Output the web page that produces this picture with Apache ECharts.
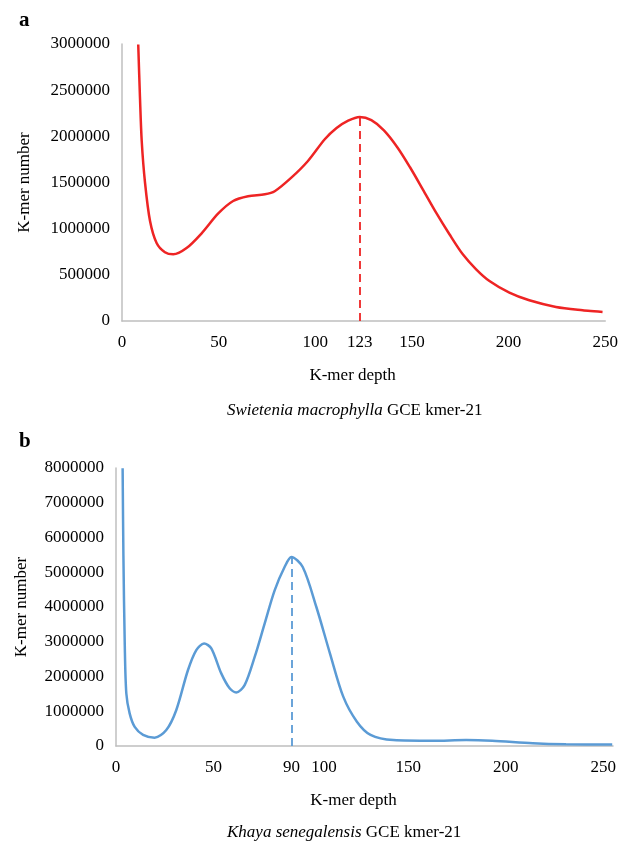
<!DOCTYPE html>
<html>
<head>
<meta charset="utf-8">
<script src="https://cdn.jsdelivr.net/npm/echarts@6/dist/echarts.min.js"></script>
<style>
  html, body { margin: 0; padding: 0; background: #fff; }
  #main { width: 621px; height: 844px; }
</style>
</head>
<body>
<div id="main"></div>
<script>
// panel a: Swietenia macrophylla
var depthA = [8.4, 9.3, 10.2, 11.9, 14.5, 17.9, 22.2, 26.5, 33.4, 41.2, 49.8, 57.5, 65.2, 73.9, 79, 87.6, 96.2,
  104.9, 111, 117, 123, 129, 135.5, 142.5, 149, 155.6, 162.5, 169.4, 176.3, 183.2, 190.1, 200.4, 210.7, 224.5, 238.3, 248.6];
var countA = [2995000, 2420000, 1950000, 1500000, 1083000, 845000, 745000, 722000, 790000, 950000, 1165000, 1300000, 1352000, 1372000, 1405000, 1552000, 1733000,
  1968000, 2090000, 2170000, 2210000, 2175000, 2065000, 1880000, 1665000, 1426000, 1173000, 939000, 722000, 560000, 433000, 307000, 224000, 152000, 116000, 97000];
var ticksA = [0, 50, 100, 123, 150, 200, 250];
var peakA = 123;

// panel b: Khaya senegalensis
var depthB = [3.4, 3.8, 4.5, 5.3, 7, 9.6, 13.9, 19.8, 25.8, 30.9, 36.9, 41.2, 45.2, 48.9, 54, 58.3, 61.7, 66, 71.2, 76.3, 81.4, 86.5, 90,
  95.8, 102.8, 109.8, 116.6, 123.6, 130.6, 142.3, 162.5, 179.6, 193, 213.8, 230.9, 254.6];
var countB = [7990000, 5490000, 2900000, 1510000, 940000, 550000, 320000, 240000, 460000, 1030000, 2180000, 2760000, 2950000, 2810000, 2090000, 1660000, 1540000, 1750000, 2570000, 3530000, 4480000, 5150000, 5440000,
  5150000, 4000000, 2660000, 1420000, 700000, 320000, 170000, 150000, 170000, 150000, 80000, 50000, 40000];
var ticksB = [0, 50, 90, 100, 150, 200, 250];
var peakB = 90;

var serif = '"Liberation Serif", "Times New Roman", serif';
var red = '#ee2424';
var blue = '#5b9bd5';

function pairs(xs, ys) {
  return xs.map(function (x, i) { return [x, ys[i]]; });
}
function peakOf(xs, ys, x) {
  return ys[xs.indexOf(x)];
}

function xAxisFor(grid, max, ticks, labelFmt) {
  return {
    type: 'value', gridIndex: grid, min: 0, max: max,
    name: 'K-mer depth', nameLocation: 'middle', nameGap: 46,
    nameTextStyle: { fontFamily: serif, fontSize: 17, color: '#000', padding: [0, 22, 0, 0] },
    axisLine: { show: true, lineStyle: { color: '#bfbfbf', width: 1.5 } },
    axisTick: { show: false },
    splitLine: { show: false },
    axisLabel: {
      customValues: ticks, margin: 13, color: '#000', fontFamily: serif, fontSize: 17,
      formatter: labelFmt,
      rich: { sh: { fontFamily: serif, fontSize: 17, color: '#000', padding: [0, 0, 0, 26] } }
    }
  };
}

function yAxisFor(grid, max, interval, nameGap) {
  return {
    type: 'value', gridIndex: grid, min: 0, max: max, interval: interval,
    name: 'K-mer number', nameLocation: 'middle', nameGap: nameGap,
    nameTextStyle: { fontFamily: serif, fontSize: 17, color: '#000' },
    axisLine: { show: true, lineStyle: { color: '#bfbfbf', width: 1.5 } },
    axisTick: { show: false },
    splitLine: { show: false },
    axisLabel: {
      margin: 12, color: '#000', fontFamily: serif, fontSize: 17,
      formatter: function (v) { return String(v); }
    }
  };
}

function lineSeries(idx, data, color, peakX, peakY) {
  return {
    type: 'line', xAxisIndex: idx, yAxisIndex: idx,
    data: data, smooth: 0.3, symbol: 'none',
    lineStyle: { color: color, width: 2.5 },
    markLine: {
      silent: true, symbol: 'none', label: { show: false },
      lineStyle: { color: color, type: [8, 5], width: 1.8 },
      data: [[{ coord: [peakX, 0] }, { coord: [peakX, peakY] }]]
    }
  };
}

var chart = echarts.init(document.getElementById('main'));
chart.setOption({
  animation: false,
  backgroundColor: '#fff',
  title: [
    { text: 'a', left: 14, top: 5, textStyle: { fontFamily: serif, fontSize: 21, fontWeight: 'bold', color: '#000' } },
    { text: 'b', left: 14, top: 426, textStyle: { fontFamily: serif, fontSize: 21, fontWeight: 'bold', color: '#000' } },
    {
      text: '{i|Swietenia macrophylla} GCE kmer-21', left: 222, top: 397,
      textStyle: { fontFamily: serif, fontSize: 17, fontWeight: 'normal', color: '#000',
        rich: { i: { fontFamily: serif, fontSize: 17, fontStyle: 'italic', color: '#000' } } }
    },
    {
      text: '{i|Khaya senegalensis} GCE kmer-21', left: 222, top: 819,
      textStyle: { fontFamily: serif, fontSize: 17, fontWeight: 'normal', color: '#000',
        rich: { i: { fontFamily: serif, fontSize: 17, fontStyle: 'italic', color: '#000' } } }
    }
  ],
  grid: [
    { left: 122, top: 44, width: 485, height: 277 },
    { left: 116, top: 468, width: 497, height: 278 }
  ],
  xAxis: [
    xAxisFor(0, 250, ticksA),
    xAxisFor(1, 255, ticksB, function (v) { return v === 100 ? '{sh|100}' : String(v); })
  ],
  yAxis: [
    yAxisFor(0, 3000000, 500000, 89),
    yAxisFor(1, 8000000, 1000000, 86)
  ],
  series: [
    lineSeries(0, pairs(depthA, countA), red, peakA, peakOf(depthA, countA, peakA)),
    lineSeries(1, pairs(depthB, countB), blue, peakB, peakOf(depthB, countB, peakB))
  ]
});
</script>
</body>
</html>
